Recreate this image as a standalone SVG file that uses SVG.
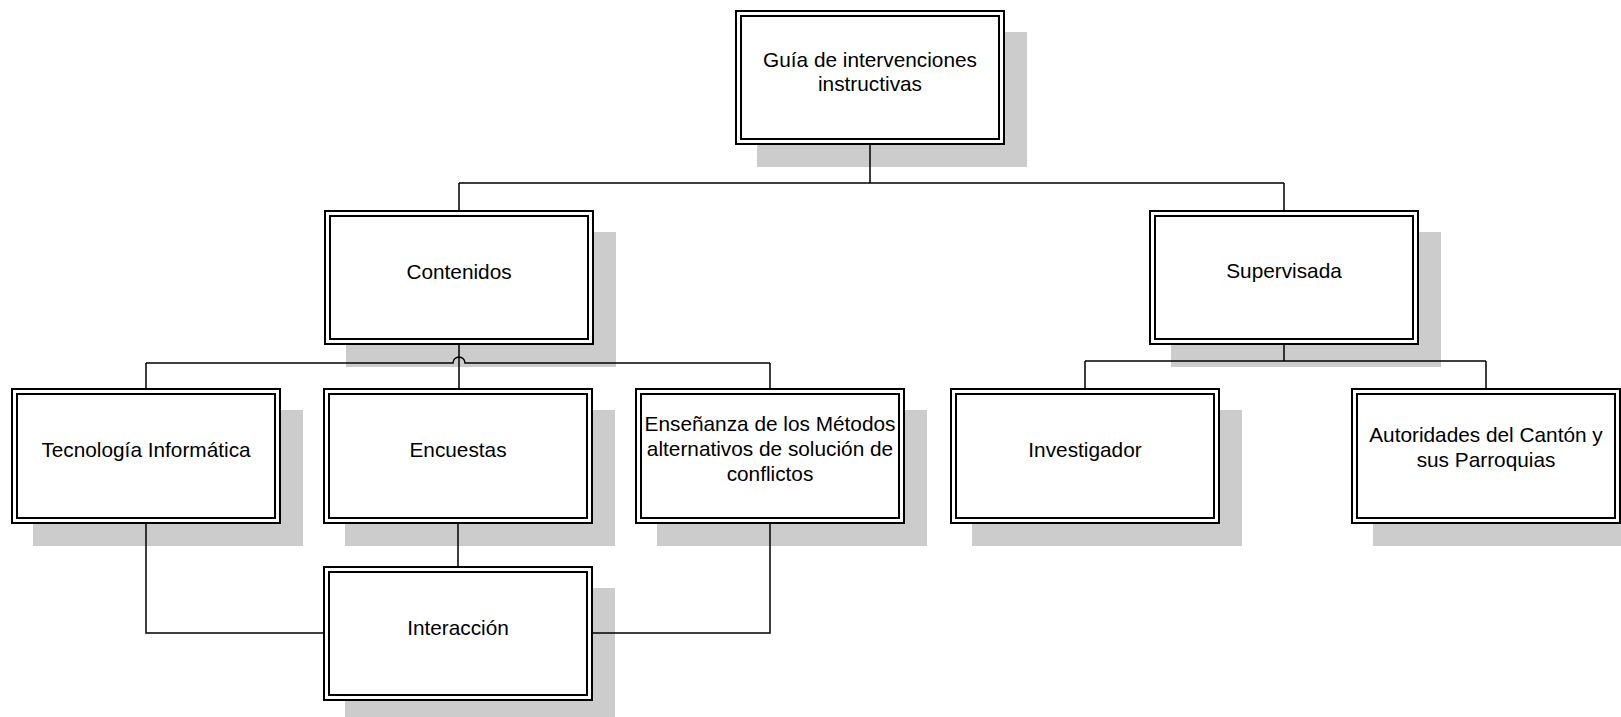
<svg xmlns="http://www.w3.org/2000/svg" width="1621" height="717" viewBox="0 0 1621 717">
<style>
.sh{fill:#cccccc;stroke:none}
.o{fill:#ffffff;stroke:#000;stroke-width:2}
.i{fill:none;stroke:#000;stroke-width:2}
.t{font-family:"Liberation Sans",Arial,sans-serif;font-size:20.8px;fill:#000;text-anchor:middle}
.c{fill:none;stroke:#000;stroke-width:1.5}
</style>
<rect width="1621" height="717" fill="#ffffff"/>
<g id="guia">
<rect class="sh" x="757" y="32" width="270" height="135"/>
<rect class="o" x="736" y="11" width="268" height="133"/>
<rect class="i" x="741" y="16" width="258" height="123"/>
<text class="t" x="870" y="67">Guía de intervenciones</text>
<text class="t" x="870" y="91">instructivas</text>
</g>
<g id="contenidos">
<rect class="sh" x="346" y="232" width="270" height="135"/>
<rect class="o" x="325" y="211" width="268" height="133"/>
<rect class="i" x="330" y="216" width="258" height="123"/>
<text class="t" x="459" y="279">Contenidos</text>
</g>
<g id="supervisada">
<rect class="sh" x="1171" y="232" width="270" height="135"/>
<rect class="o" x="1150" y="211" width="268" height="133"/>
<rect class="i" x="1155" y="216" width="258" height="123"/>
<text class="t" x="1284" y="278">Supervisada</text>
</g>
<g id="tecnologia">
<rect class="sh" x="33" y="410" width="270" height="136"/>
<rect class="o" x="12" y="389" width="268" height="134"/>
<rect class="i" x="17" y="394" width="258" height="124"/>
<text class="t" x="146" y="457">Tecnología Informática</text>
</g>
<g id="encuestas">
<rect class="sh" x="345" y="410" width="270" height="136"/>
<rect class="o" x="324" y="389" width="268" height="134"/>
<rect class="i" x="329" y="394" width="258" height="124"/>
<text class="t" x="458" y="457">Encuestas</text>
</g>
<g id="ensenanza">
<rect class="sh" x="657" y="410" width="270" height="136"/>
<rect class="o" x="636" y="389" width="268" height="134"/>
<rect class="i" x="641" y="394" width="258" height="124"/>
<text class="t" x="770" y="431">Enseñanza de los Métodos</text>
<text class="t" x="770" y="456">alternativos de solución de</text>
<text class="t" x="770" y="481">conflictos</text>
</g>
<g id="investigador">
<rect class="sh" x="972" y="410" width="270" height="136"/>
<rect class="o" x="951" y="389" width="268" height="134"/>
<rect class="i" x="956" y="394" width="258" height="124"/>
<text class="t" x="1085" y="457">Investigador</text>
</g>
<g id="autoridades">
<rect class="sh" x="1373" y="410" width="270" height="136"/>
<rect class="o" x="1352" y="389" width="268" height="134"/>
<rect class="i" x="1357" y="394" width="258" height="124"/>
<text class="t" x="1486" y="442">Autoridades del Cantón y</text>
<text class="t" x="1486" y="467">sus Parroquias</text>
</g>
<g id="interaccion">
<rect class="sh" x="345" y="588" width="270" height="135"/>
<rect class="o" x="324" y="567" width="268" height="133"/>
<rect class="i" x="329" y="572" width="258" height="123"/>
<text class="t" x="458" y="635">Interacción</text>
</g>
<g id="connectors">
<path class="c" d="M870,145 V183 M459,183 H1284 M459,183 V210 M1284,183 V210"/>
<path class="c" d="M459,345 V388 M146,363 H453 A6,6 0 0 1 465,363 H770 M146,363 V388 M770,363 V388"/>
<path class="c" d="M458,524 V566 M146,524 V633 H323 M770,524 V633 H593"/>
<path class="c" d="M1284,345 V361 M1085,361 H1486 M1085,361 V388 M1486,361 V388"/>
</g>
</svg>
